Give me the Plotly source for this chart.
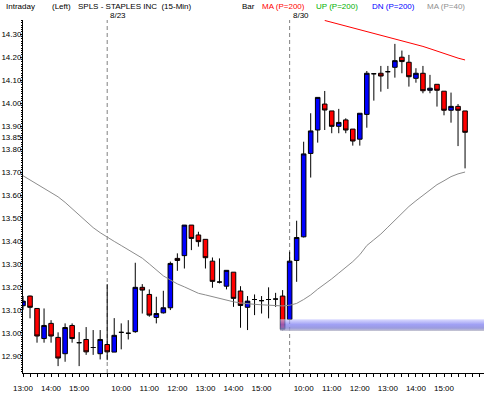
import plotly.graph_objects as go

# ---- data (15-minute bars, index = bar number) ----
bar_idx = list(range(64))
opens = [13.118, 13.160, 13.106, 12.975, 13.041, 12.980, 12.909, 13.032, 12.957, 12.971,
         12.936, 12.909, 12.949, 12.916, 13.002, 12.998, 13.005, 13.198, 13.167, 13.067,
         13.087, 13.109, 13.324, 13.336, 13.469, 13.426, 13.407, 13.312, 13.221, 13.203,
         13.264, 13.182, 13.111, 13.145, 13.140, 13.145, 13.147, 13.160, 13.058, 13.315,
         13.418, 13.781, 13.883, 13.996, 13.966, 13.899, 13.927, 13.887, 13.843, 13.951,
         14.128, 14.130, 14.137, 14.156, 14.200, 14.178, 14.108, 14.130, 14.056, 14.082,
         14.052, 13.969, 13.986, 13.966]
highs = [13.160, 13.162, 13.106, 13.106, 13.055, 13.002, 13.041, 13.041, 13.003, 13.025,
         13.012, 13.012, 13.212, 13.064, 13.041, 13.055, 13.305, 13.212, 13.189, 13.157,
         13.183, 13.310, 13.346, 13.469, 13.469, 13.440, 13.407, 13.328, 13.324, 13.272,
         13.264, 13.203, 13.160, 13.167, 13.160, 13.198, 13.174, 13.186, 13.353, 13.488,
         13.832, 13.956, 14.025, 14.053, 13.966, 13.975, 13.934, 13.887, 13.956, 14.140,
         14.128, 14.162, 14.162, 14.258, 14.229, 14.210, 14.152, 14.162, 14.123, 14.082,
         14.052, 14.046, 13.996, 13.966]
lows = [13.100, 13.063, 12.957, 12.957, 12.957, 12.855, 12.874, 12.957, 12.855, 12.904,
        12.904, 12.884, 12.881, 12.916, 12.928, 12.971, 13.000, 13.084, 13.070, 13.041,
        13.084, 13.099, 13.270, 13.280, 13.360, 13.375, 13.280, 13.196, 13.215, 13.189,
        13.113, 13.022, 13.012, 13.077, 13.084, 13.063, 13.113, 13.009, 13.055, 13.222,
        13.415, 13.676, 13.828, 13.883, 13.869, 13.869, 13.869, 13.815, 13.815, 13.893,
        14.011, 14.050, 14.062, 14.111, 14.130, 14.072, 14.089, 14.043, 14.043, 13.985,
        13.947, 13.915, 13.813, 13.716]
closes = [13.138, 13.111, 12.986, 13.032, 12.986, 12.890, 13.023, 12.975, 12.957, 12.917,
          12.936, 12.971, 12.917, 12.989, 13.002, 12.998, 13.198, 13.186, 13.077, 13.084,
          13.109, 13.302, 13.315, 13.469, 13.411, 13.397, 13.327, 13.224, 13.221, 13.272,
          13.150, 13.119, 13.138, 13.145, 13.140, 13.145, 13.147, 13.015, 13.312, 13.415,
          13.779, 13.879, 14.025, 13.970, 13.899, 13.916, 13.883, 13.835, 13.956, 14.130,
          14.128, 14.118, 14.137, 14.185, 14.181, 14.115, 14.130, 14.054, 14.065, 14.056,
          13.969, 13.986, 13.969, 13.873]

ma40 = [13.684, 13.666, 13.648, 13.630, 13.610, 13.592, 13.568, 13.540, 13.512, 13.485,
        13.458, 13.436, 13.416, 13.398, 13.380, 13.362, 13.342, 13.325, 13.300, 13.272,
        13.248, 13.230, 13.213, 13.200, 13.187, 13.172, 13.165, 13.157, 13.150, 13.142,
        13.135, 13.130, 13.126, 13.124, 13.122, 13.120, 13.118, 13.117, 13.120, 13.128,
        13.145, 13.165, 13.190, 13.212, 13.235, 13.260, 13.285, 13.310, 13.340, 13.380,
        13.405, 13.430, 13.460, 13.490, 13.520, 13.550, 13.575, 13.598, 13.620, 13.645,
        13.662, 13.680, 13.692, 13.700]

ma200_idx = list(range(43, 64))
ma200 = [14.360, 14.352, 14.345, 14.337, 14.330, 14.322, 14.312, 14.303, 14.295, 14.287,
         14.280, 14.272, 14.265, 14.257, 14.247, 14.237, 14.226, 14.216, 14.206, 14.196,
         14.188]

day_start_idx = [12, 38]
day_labels = ["8/23", "8/30"]

tick_idx = [0, 4, 8, 14, 18, 22, 26, 30, 34, 40, 44, 48, 52, 56, 60]
tick_text = ["13:00", "14:00", "15:00", "10:00", "11:00", "12:00", "13:00", "14:00",
             "15:00", "10:00", "11:00", "12:00", "13:00", "14:00", "15:00"]
price_ticks = [12.90, 13.00, 13.10, 13.20, 13.30, 13.40, 13.50, 13.60, 13.70, 13.80,
               13.85, 13.90, 14.00, 14.10, 14.20, 14.30]

band_start_idx = 37
band_low = 13.008
band_high = 13.059

# ---- figure ----
X_MAX = 65.7
fig = go.Figure()

fig.add_trace(go.Scatter(x=bar_idx, y=ma40, mode="lines",
                         line=dict(color="#8c8c8c", width=1), hoverinfo="skip"))
fig.add_trace(go.Scatter(x=ma200_idx, y=ma200, mode="lines",
                         line=dict(color="#ff0000", width=1), hoverinfo="skip"))

fig.add_trace(go.Candlestick(
    x=bar_idx, open=opens, high=highs, low=lows, close=closes,
    increasing=dict(fillcolor="#0000ff", line=dict(color="black", width=1)),
    decreasing=dict(fillcolor="#ff0000", line=dict(color="black", width=1)),
    whiskerwidth=0,
))

bx0 = band_start_idx - 0.35
bx1 = X_MAX + 1
fig.add_trace(go.Scatter(
    x=[bx0, bx1, bx1, bx0, bx0], y=[band_low, band_low, band_high, band_high, band_low],
    mode="lines", line=dict(width=0), fill="toself",
    fillgradient=dict(type="vertical", colorscale=[
        [0.0, "rgba(190,190,200,0.85)"],
        [0.25, "rgba(130,130,215,0.8)"],
        [0.55, "rgba(120,120,240,0.7)"],
        [1.0, "rgba(205,205,255,0.7)"]]),
    hoverinfo="skip"))

for d in day_start_idx:
    fig.add_shape(type="line", x0=d, x1=d, y0=0, y1=1, xref="x", yref="paper",
                  line=dict(color="#808080", width=1, dash="4px,3px"), layer="below")
for d, lab in zip(day_start_idx, day_labels):
    fig.add_annotation(x=d, y=1.012, xref="x", yref="paper", text=lab, showarrow=False,
                       xanchor="left", yanchor="middle", xshift=1,
                       font=dict(size=8, color="black"))

W_PLOT = 461.0
H_PLOT = 353.0
def px(xp):
    return (xp - 23) / W_PLOT
def py(yp):
    return (373 - yp) / H_PLOT

header = [
    ("Intraday", 4, "black"),
    ("(Left)", 50, "black"),
    ("SPLS - STAPLES INC  (15-Min)", 76, "black"),
    ("Bar", 240, "black"),
    ("MA (P=200)", 260, "#ff0000"),
    ("UP (P=200)", 314, "#00b000"),
    ("DN (P=200)", 370, "#0000ff"),
    ("MA (P=40)", 425, "#909090"),
]
for txt, xp, col in header:
    fig.add_annotation(x=px(xp), y=py(6.5), xref="paper", yref="paper", text=txt,
                       showarrow=False, xanchor="left", yanchor="middle",
                       font=dict(size=8, color=col))

fig.update_layout(
    width=484, height=394,
    margin=dict(l=23, r=0, t=20, b=21, autoexpand=False),
    paper_bgcolor="white", plot_bgcolor="white",
    showlegend=False,
    boxgap=0.35, boxgroupgap=0.0,
    font=dict(family="Liberation Sans, Arial, sans-serif", size=8, color="black"),
    xaxis=dict(range=[0, X_MAX], rangeslider=dict(visible=False), showgrid=False,
               zeroline=False, showline=True, linecolor="black", linewidth=1,
               automargin=False,
               tickmode="array", tickvals=tick_idx, ticktext=tick_text,
               ticks="outside", ticklen=3, tickcolor="black", ticklabelstandoff=4,
               minor=dict(tickmode="linear", tick0=0, dtick=1, ticks="outside",
                          ticklen=3, tickcolor="black", showgrid=False)),
    yaxis=dict(range=[12.825, 14.362], showgrid=False, zeroline=False,
               showline=True, linecolor="black", linewidth=1,
               automargin=False,
               tickmode="array", tickvals=price_ticks,
               ticktext=[f"{v:.2f}" for v in price_ticks],
               ticks="outside", ticklen=2, tickcolor="black", ticklabelstandoff=-3,
               minor=dict(tickmode="linear", tick0=12.8, dtick=0.01, ticks="outside",
                          ticklen=1, tickcolor="black", showgrid=False)),
)

fig.write_html(
    "out.html",
    config={"displayModeBar": False},
    post_script="document.body.style.margin='0';document.body.style.overflow='hidden';",
)
